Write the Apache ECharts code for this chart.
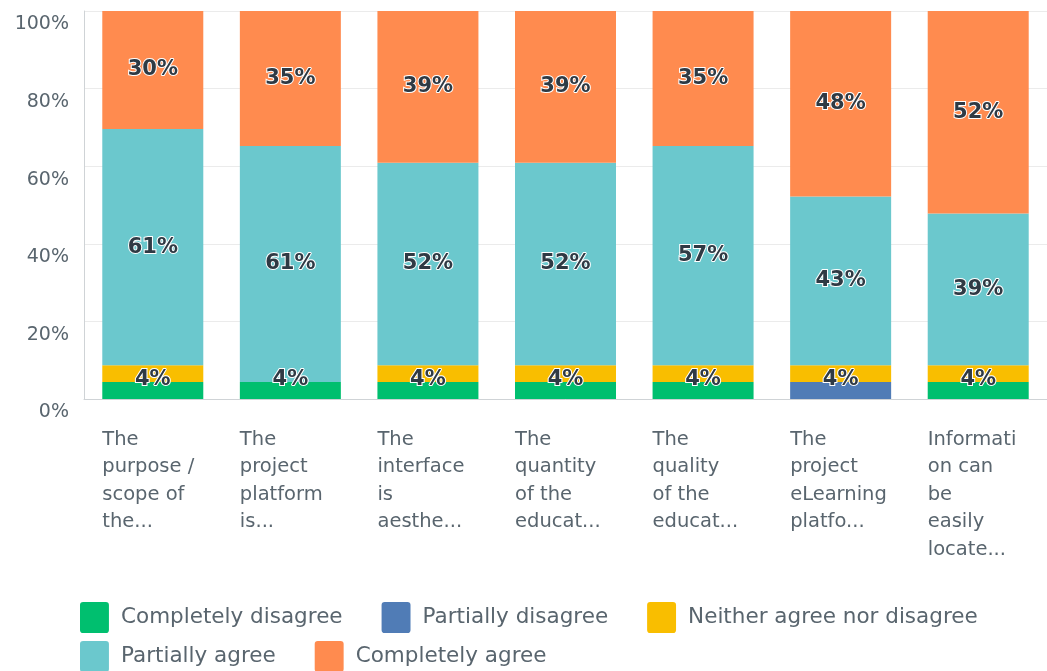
<!DOCTYPE html>
<html>
<head>
<meta charset="utf-8">
<script src="https://cdn.jsdelivr.net/npm/echarts@6/dist/echarts.min.js"></script>
<style>html,body{margin:0;padding:0;background:#fff;}#c{width:1047px;height:671px;}</style>
</head>
<body>
<div id="c"></div>
<script>
const categories = [
  "The\npurpose /\nscope of\nthe...",
  "The\nproject\nplatform\nis...",
  "The\ninterface\nis\naesthe...",
  "The\nquantity\nof the\neducat...",
  "The\nquality\nof the\neducat...",
  "The\nproject\neLearning\nplatfo...",
  "Informati\non can\nbe\neasily\nlocate..."
];
const seriesNames = ["Completely disagree", "Partially disagree", "Neither agree nor disagree", "Partially agree", "Completely agree"];
const completelyDisagree = [4.35, 4.35, 4.35, 4.35, 4.35, 0, 4.35];
const partiallyDisagree  = [0, 0, 0, 0, 0, 4.35, 0];
const neitherAgree       = [4.35, 0, 4.35, 4.35, 4.35, 4.35, 4.35];
const partiallyAgree     = [60.87, 60.87, 52.17, 52.17, 56.52, 43.48, 39.13];
const completelyAgree    = [30.43, 34.78, 39.13, 39.13, 34.78, 47.83, 52.17];
const yTicks = [0, 20, 40, 60, 80, 100];

const colors = ["#00bf6f", "#507cb6", "#f9be00", "#6bc8cd", "#ff8b4f"];
const font = "DejaVu Sans";
const textColor = "#59656e";

const labelBase = {
  show: true,
  fontFamily: font,
  fontSize: 21,
  fontWeight: "bold",
  color: "#2f3a44",
  textBorderColor: "#ffffff",
  textBorderWidth: 2,
  formatter: p => p.value > 0 ? Math.round(p.value) + "%" : ""
};

const allData = [completelyDisagree, partiallyDisagree, neitherAgree, partiallyAgree, completelyAgree];
const series = allData.map((d, i) => ({
  name: seriesNames[i],
  type: "bar",
  stack: "total",
  barWidth: 101,
  data: d,
  itemStyle: { color: colors[i] },
  label: i === 2 ? { show: false } :
    (i < 2 ? Object.assign({}, labelBase, { position: "inside", offset: [0, -11] })
           : Object.assign({}, labelBase, { position: "inside" })),
  emphasis: { disabled: true }
}));

const icon = "path://M3,0 L25,0 Q28,0 28,3 L28,27 Q28,30 25,30 L3,30 Q0,30 0,27 L0,3 Q0,0 3,0 Z";
const legendCommon = {
  icon: icon,
  itemWidth: 29,
  itemHeight: 31,
  itemGap: 39,
  left: 75,
  selectedMode: false,
  textStyle: { fontFamily: font, fontSize: 21.5, color: textColor, padding: [0, 0, 0, 7] }
};

const chart = echarts.init(document.getElementById("c"), null, { renderer: "canvas" });
chart.setOption({
  animation: false,
  backgroundColor: "#ffffff",
  grid: { left: 84, top: 11, width: 967, bottom: 272, containLabel: false },
  legend: [
    Object.assign({}, legendCommon, { top: 597, data: seriesNames.slice(0, 3) }),
    Object.assign({}, legendCommon, { top: 636, data: seriesNames.slice(3) })
  ],
  xAxis: {
    type: "category",
    data: categories,
    axisLine: { show: true, lineStyle: { color: "#cfd3d6", width: 1 } },
    axisTick: { show: false },
    axisLabel: {
      interval: 0,
      margin: 27,
      width: 101,
      align: "center",
      fontFamily: font,
      fontSize: 19,
      lineHeight: 27.5,
      color: textColor,
      formatter: v => v.split("\n").map(s => "{a|" + s + "}").join("\n"),
      rich: { a: { align: "left", fontFamily: font, fontSize: 19.5, lineHeight: 27.5, color: textColor } }
    }
  },
  yAxis: {
    type: "value",
    min: yTicks[0],
    max: yTicks[yTicks.length - 1],
    interval: 20,
    axisLine: { show: true, lineStyle: { color: "#cfd3d6", width: 1 } },
    axisTick: { show: false },
    splitLine: { show: true, lineStyle: { color: "#ebebeb", width: 1 } },
    axisLabel: {
      formatter: "{value}%",
      fontFamily: font,
      fontSize: 19,
      color: textColor,
      margin: 15,
      verticalAlign: "top",
      padding: [4, 0, 0, 0]
    }
  },
  series: series
});
</script>
</body>
</html>
